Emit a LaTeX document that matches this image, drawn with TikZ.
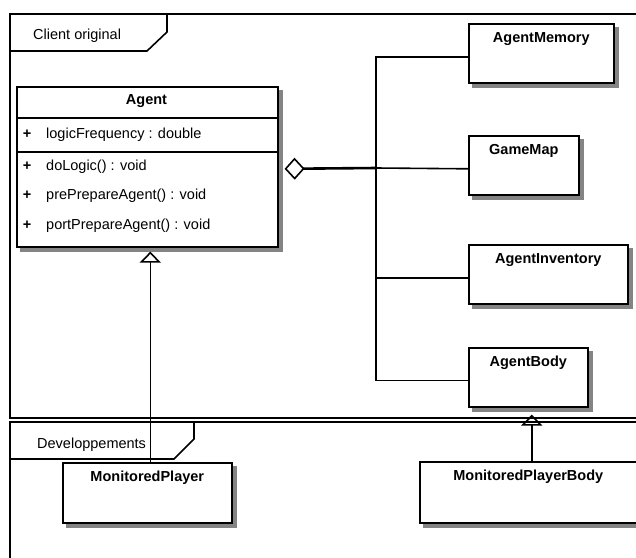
\documentclass[tikz,border=0pt]{standalone}
\usepackage{fontspec}
\setmainfont{Liberation Sans}
\usetikzlibrary{arrows.meta,positioning,backgrounds}
\definecolor{shadowgray}{HTML}{848484}

\begin{document}
\begin{tikzpicture}[x=1pt,y=-1pt,
 txt/.style={font=\fontsize{14.5}{17}\selectfont,inner sep=0pt},
 clsname/.style={font=\fontsize{14.5}{17}\selectfont\bfseries,inner sep=0pt,anchor=base},
 cls/.style={rectangle,draw,line width=1.6pt,fill=white,anchor=north west,inner sep=0pt,minimum height=59pt},
 pkg/.style={rectangle,draw,line width=1.6pt,anchor=north west,inner sep=0pt},
 line/.style={line width=1.6pt},
 aggr/.style={{Diamond[open,length=20pt,width=22pt,line width=1.6pt]}-,line width=2.6pt},
 gen/.style={-{Triangle[open,length=11pt,width=21pt,line width=1.6pt]},line width=1.6pt}
]
\useasboundingbox (0,0) rectangle (636,557);

% packages
\node[pkg,minimum width=641pt,minimum height=404pt] (client) at (9,13) {};
\draw[line] (9,51) -- (147,51) -- (167,32) -- (167,13);
\node[txt,anchor=base west] (clientlbl) at (33,39) {Client original};
\node[pkg,minimum width=641pt,minimum height=160pt] (dev) at (9,421) {};
\draw[line] (9,459) -- (174,459) -- (194,439) -- (194,421);
\node[txt,anchor=base west] (devlbl) at (37,448) {Developpements};

% Agent class
\node[cls,minimum width=261pt,minimum height=160pt] (agent) at (16,86) {};
\draw[line] (agent.west |- 0,118) -- (agent.east |- 0,118);
\draw[line] (agent.west |- 0,152) -- (agent.east |- 0,152);
\node[clsname] (agentname) at (146.5,104.5) {Agent};
\foreach \y/\t [count=\i] in {138/logicFrequency : double, 170/doLogic() : void,
  199.5/prePrepareAgent() : void, 229/portPrepareAgent() : void} {
  \node[txt,anchor=base] (plus\i) at (27,\y) {\textbf{+}};
  \node[txt,anchor=base west] (row\i) at (46,\y) {\t};
}

% other classes
\node[cls,minimum width=145pt] (mem) at (468,23) {};
\node[cls,minimum width=110pt] (map) at (468,135) {};
\node[cls,minimum width=159pt] (inv) at (468,244) {};
\node[cls,minimum width=119pt] (body) at (468,347) {};
\node[cls,minimum width=169pt,minimum height=60pt] (player) at (62,462) {};
\node[cls,minimum width=217pt,minimum height=61pt] (pbody) at (419,461) {};
\node[clsname] (memname) at ([yshift=-19pt]mem.north) {AgentMemory};
\node[clsname] (mapname) at ([yshift=-19pt]map.north) {GameMap};
\node[clsname] (invname) at ([yshift=-19pt]inv.north) {AgentInventory};
\node[clsname] (bodyname) at ([yshift=-19pt]body.north) {AgentBody};
\node[clsname] (playername) at ([yshift=-19pt]player.north) {MonitoredPlayer};
\node[clsname] (pbodyname) at ([yshift=-19pt]pbody.north) {MonitoredPlayerBody};

% shadows
\begin{scope}[on background layer]
\foreach \n in {agent,mem,map,inv,body,player,pbody}
  \fill[shadowgray] ([shift={(4pt,-4pt)}]\n.north west) rectangle ([shift={(4pt,-4pt)}]\n.south east);
\end{scope}

% links
\coordinate (hub) at (376,168);
\draw[aggr] ([xshift=6pt,yshift=-2pt]agent.east) -- (hub);
\draw[line] ([yshift=-3.5pt]mem.west) -| (hub) |- ([yshift=-3pt]body.west);
\draw[line] (hub) -- ([yshift=-3.5pt]map.west);
\draw[line] ([yshift=-3.5pt]inv.west) -- ([yshift=-3.5pt]inv.west -| hub);
\draw[gen] ([xshift=3pt]player.north) -- ([xshift=3pt,yshift=-4pt]agent.south);
\draw[gen] ([xshift=3.5pt]pbody.north) -- ([xshift=3.5pt,yshift=-7pt]body.south);
\end{tikzpicture}
\end{document}
